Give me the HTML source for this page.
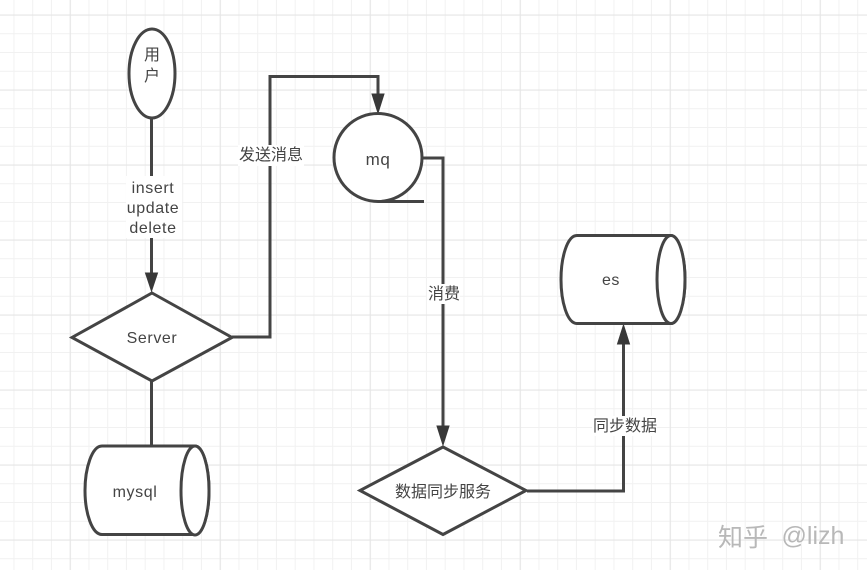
<!DOCTYPE html>
<html><head><meta charset="utf-8">
<style>
html,body{margin:0;padding:0;background:#fff;width:867px;height:570px;overflow:hidden}
svg{display:block}
text{font-family:"Liberation Sans","Noto Sans CJK SC",sans-serif;font-size:16px;fill:#444;text-anchor:middle}
.w{letter-spacing:.6px}
.s{fill:#fff;stroke:#444;stroke-width:3}
.l{fill:none;stroke:#444;stroke-width:3}
.a{fill:#383838;stroke:#383838;stroke-width:1}
</style></head><body>
<svg width="867" height="570" viewBox="0 0 867 570" xmlns="http://www.w3.org/2000/svg">
<defs>
<pattern id="g" width="18.75" height="18.75" patternUnits="userSpaceOnUse" x="13.45" y="14.5">
<path d="M0.5 0V18.75M0 0.5H18.75" fill="none" stroke="#f1f1f1" stroke-width="1"/>
</pattern>
<pattern id="G" width="150" height="75" patternUnits="userSpaceOnUse" x="69.7" y="14.5">
<path d="M0.5 0V75M0 0.5H150" fill="none" stroke="#e5e5e5" stroke-width="1.2"/>
</pattern>
</defs>
<rect width="867" height="570" fill="#fff"/>
<rect width="867" height="570" fill="url(#g)"/>
<rect width="867" height="570" fill="url(#G)"/>

<!-- connectors -->
<path class="l" d="M151.500 118V275"/>
<path class="a" d="M145.500 273L157.500 273L151.500 291Z"/>
<path class="l" d="M151.500 381V447"/>
<path class="l" d="M232 337H270V76.500H378V96"/>
<path class="a" d="M372 94L384 94L378 113Z"/>
<path class="l" d="M423 158H443V428"/>
<path class="a" d="M437 426L449 426L443 445Z"/>
<path class="l" d="M527 491H623.500V342"/>
<path class="a" d="M617.500 344L629.500 344L623.500 325Z"/>

<!-- user -->
<ellipse class="s" cx="152" cy="73.500" rx="23" ry="44.500"/>
<text x="152" y="60">用</text>
<text x="152" y="81">户</text>

<!-- label backgrounds + labels -->
<rect x="126" y="176" width="56" height="62" fill="#fff"/>
<text class="w" x="153" y="193">insert</text>
<text class="w" x="153" y="213">update</text>
<text class="w" x="153" y="233">delete</text>

<rect x="238" y="145" width="66" height="21" fill="#fff"/>
<text x="271" y="160">发送消息</text>

<rect x="427" y="284" width="33" height="20" fill="#fff"/>
<text x="444" y="299">消费</text>

<rect x="592" y="416" width="65" height="20" fill="#fff"/>
<text x="625" y="431">同步数据</text>

<!-- server -->
<path class="s" d="M152 293L232 337.500L152 381L72 337.500Z"/>
<text class="w" x="152" y="343">Server</text>

<!-- mysql -->
<path class="s" d="M102 446H195C203 446 209 468 209 490.500C209 513 203 534.500 195 534.500H102C92 534.500 85 513 85 490.500C85 468 92 446 102 446Z"/>
<ellipse class="s" cx="195" cy="490.500" rx="14" ry="44.500"/>
<text class="w" x="135" y="497">mysql</text>

<!-- mq -->
<circle class="s" cx="378" cy="157.500" r="44"/>
<path class="l" d="M378 201.500H424"/>
<text class="w" x="378" y="165" style="font-size:17px">mq</text>

<!-- es -->
<path class="s" d="M577 235.500H671C679 235.500 685 258 685 279.500C685 301 679 323.500 671 323.500H577C567 323.500 561 301 561 279.500C561 258 567 235.500 577 235.500Z"/>
<ellipse class="s" cx="671" cy="279.500" rx="14" ry="44"/>
<text class="w" x="611" y="285">es</text>

<!-- data sync -->
<path class="s" d="M443 447L526 490.500L443 534.500L360 490.500Z"/>
<text x="443" y="497">数据同步服务</text>

<!-- watermark -->
<text x="743" y="546" style="font-size:25px;fill:#b8b8b8">知乎</text>
<text x="813" y="544" style="font-size:25px;fill:#b8b8b8">@lizh</text>
</svg>
</body></html>
